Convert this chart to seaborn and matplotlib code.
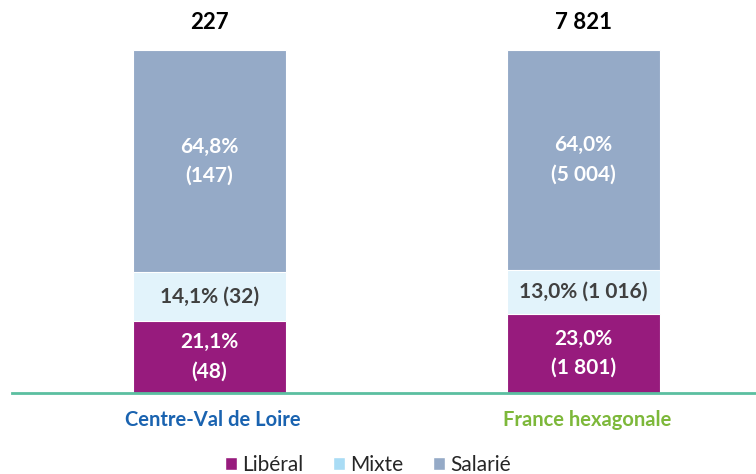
import numpy as np
import pandas as pd
import seaborn as sns
import matplotlib.pyplot as plt
from matplotlib.patches import Patch

regions = ["Centre-Val de Loire", "France hexagonale"]
totals = ["227", "7 821"]
liberal_pct = [21.1, 23.0]
mixte_pct = [14.1, 13.0]
salarie_pct = [64.8, 64.0]
liberal_n = ["48", "1 801"]
mixte_n = ["32", "1 016"]
salarie_n = ["147", "5 004"]

region_colors = ["#1A63B0", "#7DB83A"]
c_lib, c_mix, c_sal = "#971B7D", "#E2F3FB", "#95AAC7"
c_mix_legend = "#A9DCF5"

sns.set_theme(style="white")
plt.rcParams["font.family"] = ["Lato", "DejaVu Sans"]

df = pd.DataFrame({"region": regions,
                   "lib": liberal_pct,
                   "mix": mixte_pct,
                   "sal": salarie_pct})
df["cum1"] = df["lib"]
df["cum2"] = df["lib"] + df["mix"]
df["cum3"] = df["cum2"] + df["sal"]

fig = plt.figure(figsize=(7.56, 4.74), dpi=100)
ax = fig.add_axes([12 / 756, 81 / 474, 744 / 756, 343 / 474])

# stacked look: draw cumulative totals, tallest first
for col, color in [("cum3", c_sal), ("cum2", c_mix), ("cum1", c_lib)]:
    sns.barplot(data=df, x="region", y=col, color=color, width=0.41,
                edgecolor="white", linewidth=0.8, saturation=1, ax=ax)

ax.set_xlim(-0.528, 1.461)
ax.set_ylim(0, 100)
ax.set_xlabel("")
ax.set_ylabel("")
ax.set_yticks([])
ax.set_xticks([])
for s in ["top", "right", "left"]:
    ax.spines[s].set_visible(False)
ax.spines["bottom"].set_color("#5BBFA0")
ax.spines["bottom"].set_linewidth(2)

fs = 15
for i in range(len(regions)):
    y1 = df["cum1"][i] / 2
    ax.text(i, y1, f"{liberal_pct[i]:.1f}%".replace(".", ",") + f"\n({liberal_n[i]})",
            ha="center", va="center", color="white", fontsize=fs,
            fontweight="bold", linespacing=1.55)
    y2 = (df["cum1"][i] + df["cum2"][i]) / 2
    ax.text(i, y2, f"{mixte_pct[i]:.1f}%".replace(".", ",") + f" ({mixte_n[i]})",
            ha="center", va="center", color="#404040", fontsize=fs,
            fontweight="bold")
    y3 = (df["cum2"][i] + df["cum3"][i]) / 2
    ax.text(i, y3, f"{salarie_pct[i]:.1f}%".replace(".", ",") + f"\n({salarie_n[i]})",
            ha="center", va="center", color="white", fontsize=fs,
            fontweight="bold", linespacing=1.55)
    ax.text(i, 108, totals[i], ha="center", va="center", color="black",
            fontsize=16, fontweight="bold")
    ax.text(i + 0.01, -8, regions[i], ha="center", va="center",
            color=region_colors[i], fontsize=14.5, fontweight="bold")

handles = [Patch(facecolor=c_lib, label="Libéral"),
           Patch(facecolor=c_mix_legend, label="Mixte"),
           Patch(facecolor=c_sal, label="Salarié")]
fig.legend(handles=handles, loc="center", bbox_to_anchor=(368 / 756, 1 - 465 / 474),
           ncol=3, frameon=False, fontsize=15, handlelength=0.6,
           handleheight=0.6, handletextpad=0.25, columnspacing=1.4)

plt.savefig("out.png", dpi=100)
plt.close()
